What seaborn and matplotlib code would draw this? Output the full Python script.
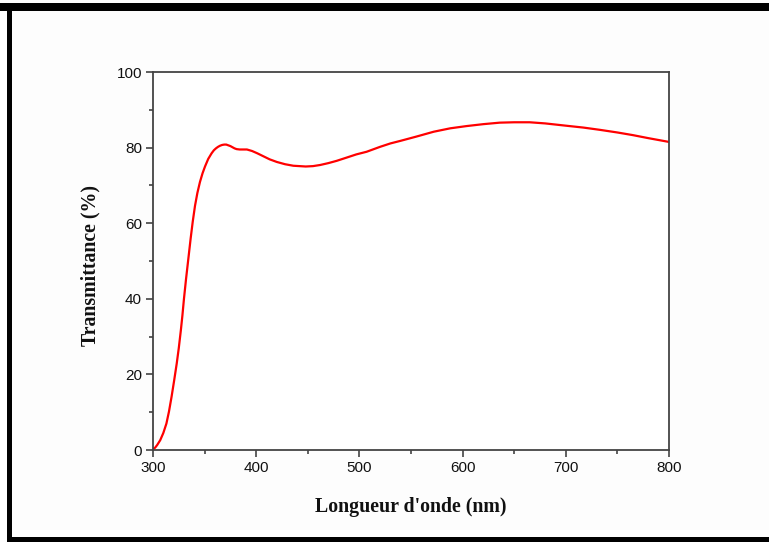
import numpy as np
import pandas as pd
import seaborn as sns
import matplotlib
matplotlib.use("Agg")
import matplotlib.pyplot as plt
from matplotlib.patches import Rectangle
from matplotlib.ticker import MultipleLocator

wavelength = [300, 302, 304, 307, 310, 313, 315.5, 318, 320.5, 323, 325, 327, 328.5,
              330, 332, 334, 336.5, 338.5, 340.7, 343, 345.5, 348, 350.4, 353.5,
              356.8, 359, 361, 363, 365, 367, 369, 371, 373, 375, 377, 379, 381,
              384, 387, 391, 396, 401, 407, 413, 420, 428, 436, 442, 448, 455,
              462, 470, 478, 487, 497, 507, 520, 530, 540, 555, 572, 588, 604,
              620, 636, 650, 665, 680, 700, 717, 733, 750, 765, 780, 790, 800]
transmittance = [0.2, 0.6, 1.3, 2.6, 4.5, 7.0, 10.2, 14.1, 18.4, 22.9, 27.0, 31.7, 35.6,
                 40.0, 45.2, 50.0, 56.0, 60.4, 64.6, 68.0, 70.9, 73.2, 75.0, 77.0,
                 78.5, 79.3, 79.8, 80.2, 80.5, 80.7, 80.8, 80.8, 80.6, 80.4, 80.1, 79.8, 79.6,
                 79.5, 79.5, 79.5, 79.1, 78.5, 77.7, 76.9, 76.2, 75.6, 75.2, 75.1, 75.0, 75.1,
                 75.4, 75.9, 76.5, 77.3, 78.2, 78.9, 80.2, 81.1, 81.8, 82.9, 84.2, 85.1, 85.7,
                 86.2, 86.6, 86.7, 86.7, 86.4, 85.8, 85.3, 84.7, 84.0, 83.3, 82.5, 82.0, 81.5]

df = pd.DataFrame({"wl": wavelength, "T": transmittance})

sns.set_theme(style="white")
plt.rcParams["font.family"] = ["Liberation Sans", "DejaVu Sans"]

fig = plt.figure(figsize=(7.69, 5.42), dpi=100, facecolor="#fdfdfd")
ax = fig.add_axes([153/769, 1-450/542, (669-153)/769, (450-72)/542])
ax.set_facecolor("white")

sns.lineplot(data=df, x="wl", y="T", ax=ax, color="#ff0000", linewidth=1.6)

ax.set_xlim(300, 800)
ax.set_ylim(0, 100)
ax.xaxis.set_major_locator(MultipleLocator(100))
ax.xaxis.set_minor_locator(MultipleLocator(50))
ax.yaxis.set_major_locator(MultipleLocator(20))
ax.yaxis.set_minor_locator(MultipleLocator(10))
ax.tick_params(axis="both", which="major", direction="out", length=5, width=1.1,
               color="#333333", labelsize=11, labelcolor="#111111", pad=3,
               bottom=True, left=True, top=False, right=False)
ax.tick_params(axis="both", which="minor", direction="out", length=3, width=1.1,
               color="#333333", bottom=True, left=True, top=False, right=False)
for s in ax.spines.values():
    s.set_color("#444444")
    s.set_linewidth(1.3)

ax.set_xlabel("Longueur d'onde (nm)", fontfamily="Liberation Serif", fontweight="bold",
              fontsize=14.3, color="#111111", labelpad=16)
ax.set_ylabel("Transmittance (%)", fontfamily="Liberation Serif", fontweight="bold",
              fontsize=14.3, color="#111111")
ax.yaxis.set_label_coords(-0.101, 0.487)
ax.grid(False)

# black frame around figure
W, H = 769, 542
fig.patches.append(Rectangle((0, 1-11/H), 1, 8/H, transform=fig.transFigure,
                             facecolor="black", edgecolor="none", zorder=10))
fig.patches.append(Rectangle((7/W, 0), 5/W, 1-3/H, transform=fig.transFigure,
                             facecolor="black", edgecolor="none", zorder=10))
fig.patches.append(Rectangle((7/W, 0), 1-7/W, 5.5/H, transform=fig.transFigure,
                             facecolor="black", edgecolor="none", zorder=10))

fig.savefig("out.png", dpi=100, facecolor=fig.get_facecolor())
